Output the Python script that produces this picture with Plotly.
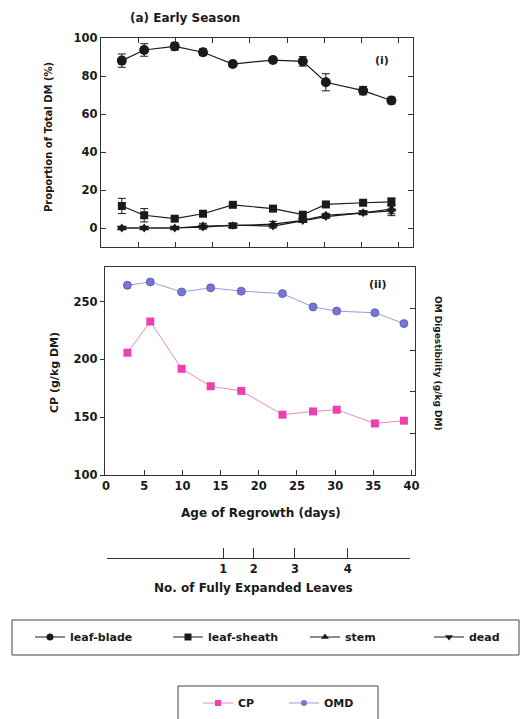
import plotly.graph_objects as go

W, H = 523, 719

days = [2.8, 5.8, 9.9, 13.7, 17.7, 23.1, 27.1, 30.2, 35.2, 39.0]

leaf_blade = [88.1, 93.7, 95.6, 92.5, 86.3, 88.4, 87.7, 76.7, 72.3, 67.1]
leaf_blade_err = [3.5, 3.3, 2.0, 1.8, 1.0, 1.0, 2.5, 4.5, 2.2, 1.8]
leaf_sheath = [11.6, 6.7, 4.9, 7.5, 12.2, 10.2, 7.0, 12.4, 13.3, 13.8]
leaf_sheath_err = [4.0, 3.5, 1.0, 1.0, 0.8, 1.0, 1.0, 1.2, 1.0, 2.0]
stem = [0.0, 0.0, 0.0, 1.0, 1.2, 2.0, 4.0, 6.7, 8.0, 10.0]
stem_err = [0.5, 0.5, 0.5, 1.5, 1.5, 1.5, 1.0, 1.0, 1.0, 2.5]
dead = [0.0, 0.0, 0.0, 0.5, 1.5, 1.0, 4.0, 6.0, 8.0, 9.0]
dead_err = [0.5, 0.5, 0.5, 1.0, 1.0, 1.0, 1.0, 1.0, 1.0, 2.5]

cp = [205.8, 232.8, 191.9, 176.8, 172.8, 152.2, 155.0, 156.5, 144.6, 147.0]
omd = [778, 782, 770, 775, 771, 768, 752, 747, 745, 732]

x_ticks = [0, 5, 10, 15, 20, 25, 30, 35, 40]
leaves_days = [15.2, 19.2, 24.6, 31.5]
leaves_labels = ["1", "2", "3", "4"]

FONT = "DejaVu Sans, Liberation Sans, Arial, sans-serif"
INK = "#1a1a1a"
CP_COL = "#ee3fae"
OMD_COL = "#7676d4"


def px(x):
    return x / W


def py(y):
    return 1 - y / H


fig = go.Figure()

series_i = [
    ("leaf-blade", leaf_blade, leaf_blade_err, "circle", 10, 93),
    ("leaf-sheath", leaf_sheath, leaf_sheath_err, "square", 8, 92),
    ("stem", stem, stem_err, "triangle-up", 9, 79),
    ("dead", dead, dead_err, "triangle-down", 9, None),
]
for name, vals, errs, sym, sz, lw in series_i:
    fig.add_trace(go.Scatter(
        x=days, y=vals, mode="lines+markers", name=name, showlegend=False,
        line=dict(color=INK, width=1.2),
        marker=dict(symbol=sym, size=sz, color=INK),
        error_y=dict(type="data", array=errs, color=INK, thickness=1, width=4),
        xaxis="x", yaxis="y",
    ))
    fig.add_trace(go.Scatter(
        x=[None], y=[None], mode="lines+markers", name=name, legend="legend",
        legendwidth=lw,
        line=dict(color=INK, width=1.2),
        marker=dict(symbol=sym, size=7, color=INK),
    ))

fig.add_trace(go.Scatter(
    x=days, y=cp, mode="lines+markers", name="CP", showlegend=False,
    line=dict(color="#e48cc4", width=1),
    marker=dict(symbol="square", size=8, color=CP_COL),
    xaxis="x2", yaxis="y2",
))
fig.add_trace(go.Scatter(
    x=days, y=omd, mode="lines+markers", name="OMD", showlegend=False,
    line=dict(color="#9c9cd8", width=1),
    marker=dict(symbol="circle", size=8, color=OMD_COL,
                line=dict(color="#5555aa", width=0.8)),
    xaxis="x2", yaxis="y3",
))
fig.add_trace(go.Scatter(
    x=[None], y=[None], mode="lines+markers", name="CP", legend="legend2",
    legendwidth=41,
    line=dict(color="#e48cc4", width=1),
    marker=dict(symbol="square", size=6, color=CP_COL),
))
fig.add_trace(go.Scatter(
    x=[None], y=[None], mode="lines+markers", name="OMD", legend="legend2",
    line=dict(color="#9c9cd8", width=1),
    marker=dict(symbol="circle", size=6, color=OMD_COL),
))
# invisible trace to show the leaves axis
fig.add_trace(go.Scatter(x=[0], y=[0], mode="markers", marker=dict(opacity=0),
                         showlegend=False, hoverinfo="skip",
                         xaxis="x3", yaxis="y4"))

tickfont = dict(family=FONT, size=11.5, color=INK, weight="bold")
axis_common = dict(showgrid=False, zeroline=False, showline=True,
                   linecolor="#333", linewidth=1.2, tickcolor="#333",
                   tickfont=tickfont)

fig.update_layout(
    width=W, height=H,
    margin=dict(l=0, r=0, t=0, b=0, autoexpand=False),
    paper_bgcolor="white", plot_bgcolor="rgba(0,0,0,0)",
    font=dict(family=FONT, color=INK),
    xaxis=dict(domain=[px(101), px(413)], range=[0, 41.9], anchor="y",
               tickvals=x_ticks, showticklabels=False, ticks="inside",
               ticklen=5, mirror="ticks", **axis_common),
    yaxis=dict(domain=[py(247), py(38)], range=[-10, 100], anchor="x",
               tickvals=[0, 20, 40, 60, 80, 100], ticks="inside", ticklen=5,
               mirror="ticks", **axis_common),
    xaxis2=dict(domain=[px(105), px(415)], range=[-0.13, 40.45], anchor="y2",
                tickvals=x_ticks, ticks="inside", ticklen=5, mirror=True,
                **axis_common),
    yaxis2=dict(domain=[py(475), py(267)], range=[100, 280], anchor="x2",
                tickvals=[100, 150, 200, 250], ticks="outside", ticklen=4,
                mirror=True, **axis_common),
    yaxis3=dict(overlaying="y2", side="right", anchor="x2", range=[550, 800],
                tickvals=[600, 650, 700, 750], ticks="inside", ticklen=5,
                showticklabels=False, showgrid=False, zeroline=False,
                showline=True, linecolor="#333", linewidth=1.2,
                tickcolor="#333"),
    xaxis3=dict(domain=[px(107), px(410)], range=[0, 39.66], anchor="free",
                position=py(558), side="bottom",
                tickvals=[0] + leaves_days + [39.66],
                ticktext=[""] + leaves_labels + [""],
                ticks="inside", ticklen=10, showgrid=False, zeroline=False,
                showline=True, linecolor="#333", linewidth=1.2,
                tickcolor="#333", tickfont=tickfont),
    yaxis4=dict(domain=[py(560), py(540)], anchor="x3", visible=False,
                range=[1, 2]),
    legend=dict(orientation="h", x=px(30), y=py(637), xanchor="left",
                yanchor="middle", bgcolor="rgba(0,0,0,0)", borderwidth=0,
                font=dict(family=FONT, size=11, color=INK, weight="bold")),
    legend2=dict(orientation="h", x=px(198), y=py(703), xanchor="left",
                 yanchor="middle", bgcolor="rgba(0,0,0,0)", borderwidth=0,
                 font=dict(family=FONT, size=11, color=INK, weight="bold")),
    shapes=[
        dict(type="rect", xref="paper", yref="paper",
             x0=px(12), x1=px(519), y0=py(655), y1=py(620),
             line=dict(color="#444", width=1), fillcolor="rgba(0,0,0,0)"),
        dict(type="rect", xref="paper", yref="paper",
             x0=px(178), x1=px(378), y0=py(725), y1=py(686),
             line=dict(color="#444", width=1), fillcolor="rgba(0,0,0,0)"),
    ],
)

annotations = [
    dict(text="(a) Early Season", x=px(128), y=py(18), xanchor="left",
         size=12),
    dict(text="(i)", x=px(382), y=py(60), xanchor="center", size=11),
    dict(text="(ii)", x=px(378), y=py(284), xanchor="center", size=11),
    dict(text="Proportion of Total DM (%)", x=px(48), y=py(137),
         xanchor="center", textangle=-90, size=10),
    dict(text="CP (g/kg DM)", x=px(54), y=py(373), xanchor="center",
         textangle=-90, size=11),
    dict(text="OM Digestibility (g/kg DM)", x=px(438), y=py(363),
         xanchor="center", textangle=90, size=9),
    dict(text="Age of Regrowth (days)", x=px(261), y=py(513),
         xanchor="center", size=12),
    dict(text="No. of Fully Expanded Leaves", x=px(253), y=py(588),
         xanchor="center", size=12),
]
for a in annotations:
    size = a.pop("size")
    fig.add_annotation(xref="paper", yref="paper", yanchor="middle",
                       showarrow=False,
                       font=dict(family=FONT, size=size, color=INK,
                                 weight="bold"), **a)

fig.write_html("out.html",
               config={"displayModeBar": False},
               post_script="document.body.style.margin='0';"
                           "document.body.style.overflow='hidden';")
